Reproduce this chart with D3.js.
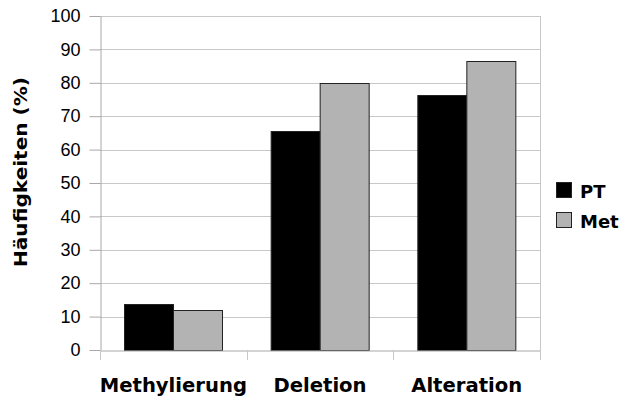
<!DOCTYPE html>
<html><head><meta charset="utf-8">
<script src="https://cdn.jsdelivr.net/npm/d3@7"></script>
<style>body{margin:0;background:#fff}svg{display:block}</style>
</head><body>
<script>
const categories = ["Methylierung", "Deletion", "Alteration"];
const seriesNames = ["PT", "Met"];
const ptValues = [13.8, 65.7, 76.3];
const metValues = [12.0, 80.0, 86.4];
const yTicks = [0,10,20,30,40,50,60,70,80,90,100];
const colors = {PT: "#000000", Met: "#b3b3b3"};

const W = 622, H = 397;
const m = {left: 100, right: 82, top: 16, bottom: 47};
const svg = d3.select("body").append("svg").attr("width", W).attr("height", H);
const x = d3.scaleBand().domain(categories).range([m.left, W - m.right]).paddingInner(0).paddingOuter(0);
const y = d3.scaleLinear().domain([0, 100]).range([H - m.bottom, m.top]);
const inner = d3.scaleBand().domain(seriesNames).range([0, x.bandwidth()]).paddingOuter(0.5).paddingInner(0);

// gridlines
svg.append("g").selectAll("line").data(yTicks.filter(d => d > 0)).join("line")
  .attr("x1", m.left).attr("x2", W - m.right)
  .attr("y1", d => Math.round(y(d)) + 0.5).attr("y2", d => Math.round(y(d)) + 0.5)
  .attr("stroke", "#c8c8c8").attr("stroke-width", 1);
// right border
svg.append("line").attr("x1", W - m.right + 0.5).attr("x2", W - m.right + 0.5).attr("y1", m.top).attr("y2", y(0))
  .attr("stroke", "#c8c8c8");

const data = categories.map((c, i) => ({cat: c, values: [{s: "PT", v: ptValues[i]}, {s: "Met", v: metValues[i]}]}));
svg.append("g").selectAll("g").data(data).join("g")
  .attr("transform", d => `translate(${x(d.cat)},0)`)
  .selectAll("rect").data(d => d.values).join("rect")
  .attr("x", d => Math.round(inner(d.s)) + 0.5).attr("width", Math.round(inner.bandwidth()))
  .attr("y", d => Math.round(y(d.v)) + 0.5).attr("height", d => Math.round(y(0)) - Math.round(y(d.v)))
  .attr("fill", d => colors[d.s]).attr("stroke", "#222").attr("stroke-width", 1);

// y axis
const yAxis = svg.append("g").attr("transform", `translate(${m.left + 0.5},0)`)
  .call(d3.axisLeft(y).tickValues(yTicks).tickSize(11).tickPadding(9).tickSizeOuter(0));
yAxis.select(".domain").attr("stroke", "#a8a8a8");
yAxis.selectAll(".tick line").attr("stroke", "#a8a8a8");
yAxis.selectAll("text").attr("font-family", "'Liberation Sans', Arial, sans-serif").attr("font-size", 18).attr("fill", "#000");

// x axis
const xAxis = svg.append("g").attr("transform", `translate(0,${Math.round(y(0)) + 0.5})`)
  .call(d3.axisBottom(x).tickSize(0).tickPadding(28));
xAxis.select(".domain").attr("stroke", "#a8a8a8");
xAxis.selectAll("text").attr("font-family", "'DejaVu Sans', Verdana, sans-serif").attr("font-weight", "bold").attr("font-size", 19.6).attr("fill", "#000");
// category boundary ticks
const bounds = categories.map(c => x(c)).concat([x(categories[categories.length - 1]) + x.bandwidth()]);
svg.append("g").selectAll("line").data(bounds).join("line")
  .attr("x1", d => Math.round(d) + 0.5).attr("x2", d => Math.round(d) + 0.5)
  .attr("y1", y(0)).attr("y2", y(0) + 10)
  .attr("stroke", "#c8c8c8");

// y title
svg.append("text").attr("transform", `translate(27,172) rotate(-90)`)
  .attr("text-anchor", "middle").attr("font-family", "'DejaVu Sans', Verdana, sans-serif")
  .attr("font-weight", "bold").attr("font-size", 17)
  .attr("textLength", 190).attr("lengthAdjust", "spacingAndGlyphs").text("Häufigkeiten (%)");

// legend
const lg = svg.append("g").attr("transform", "translate(556,182)");
const li = lg.selectAll("g").data(seriesNames).join("g").attr("transform", (d, i) => `translate(0,${i * 30})`);
li.append("rect").attr("x", 0.5).attr("y", 0.5).attr("width", 15).attr("height", 15)
  .attr("fill", d => colors[d]).attr("stroke", "#222");
li.append("text").attr("x", 24).attr("y", 16).attr("font-family", "'DejaVu Sans', Verdana, sans-serif")
  .attr("font-weight", "bold").attr("font-size", 18).text(d => d);
</script>
</body></html>
